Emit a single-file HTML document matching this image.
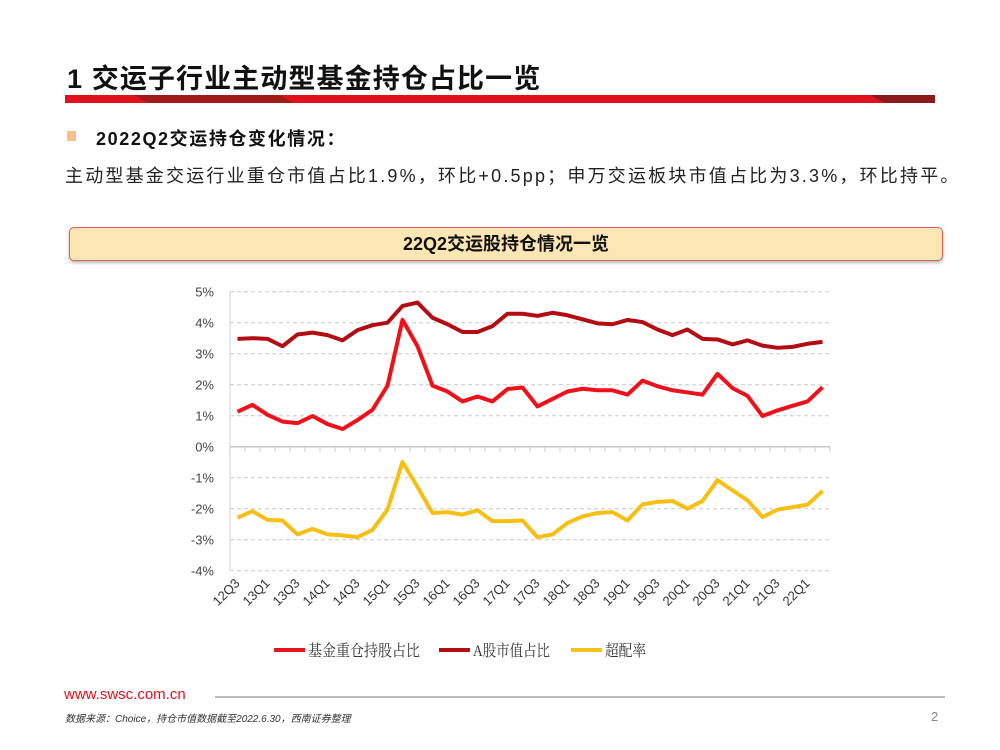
<!DOCTYPE html>
<html><head><meta charset="utf-8"><style>
body{margin:0;width:1000px;height:750px;background:#fff;position:relative;overflow:hidden;font-family:"Liberation Sans","Noto Sans CJK SC",sans-serif}
.abs{position:absolute;white-space:nowrap}
</style></head><body>
<div class="abs" style="left:67px;top:57px;font-size:27px;font-weight:bold;color:#111;letter-spacing:1.1px">1 交运子行业主动型基金持仓占比一览</div>
<svg class="abs" style="left:0;top:0" width="1000" height="110">
<rect x="65" y="95" width="870" height="8" fill="#e0101c"/>
<polygon points="134,95 280,95 293,103 148,103" fill="#a01a1a"/>
<polygon points="870,95 935,95 935,103 885,103" fill="#8b1a1a"/>
</svg>
<div class="abs" style="left:67px;top:131px;width:9px;height:10px;background:#f8c08e"></div>
<div class="abs" style="left:96px;top:125px;font-size:18px;font-weight:bold;color:#111;letter-spacing:1.6px">2022Q2交运持仓变化情况：</div>
<div class="abs" style="left:65px;top:162px;font-size:18px;color:#222;letter-spacing:2.2px">主动型基金交运行业重仓市值占比1.9%，环比+0.5pp；申万交运板块市值占比为3.3%，环比持平。</div>
<div class="abs" style="left:69px;top:227px;width:872px;height:32px;background:#fbe6b4;border:1px solid #d9605a;border-radius:5px;box-shadow:0 2px 3px #bbb;text-align:center;line-height:32px;font-size:18px;font-weight:bold;color:#111">22Q2交运股持仓情况一览</div>
<svg class="abs" id="chart" style="left:0;top:0" width="1000" height="680"></svg>
<div class="abs" style="left:64px;top:686px;font-size:15px;color:#e0101c">www.swsc.com.cn</div>
<div class="abs" style="left:215px;top:696px;width:730px;height:2px;background:#bbb"></div>
<div class="abs" style="left:65px;top:710px;font-size:10px;font-style:italic;color:#333">数据来源：Choice，持仓市值数据截至2022.6.30，西南证券整理</div>
<div class="abs" style="left:931px;top:709px;font-size:13px;color:#888">2</div>
<script>
const categories=[];
(function(){let y=12,q=3;for(let i=0;i<40;i++){categories.push(y+'Q'+q);q++;if(q>4){q=1;y++;}}})();
const fundShare=[1.13,1.35,1.03,0.81,0.76,0.99,0.73,0.57,0.86,1.19,1.97,4.09,3.24,1.97,1.78,1.46,1.62,1.46,1.86,1.91,1.30,1.54,1.78,1.87,1.82,1.82,1.68,2.13,1.95,1.82,1.75,1.68,2.35,1.89,1.64,0.99,1.17,1.32,1.46,1.92];
const marketShare=[3.48,3.50,3.48,3.24,3.62,3.68,3.60,3.43,3.76,3.92,4.00,4.54,4.65,4.16,3.95,3.70,3.70,3.89,4.29,4.29,4.22,4.32,4.24,4.11,3.98,3.95,4.09,4.02,3.78,3.60,3.78,3.48,3.46,3.30,3.43,3.26,3.19,3.22,3.32,3.38];
const overweight=[-2.29,-2.08,-2.36,-2.38,-2.83,-2.65,-2.83,-2.86,-2.92,-2.68,-2.03,-0.49,-1.30,-2.14,-2.11,-2.19,-2.05,-2.40,-2.40,-2.38,-2.92,-2.83,-2.46,-2.25,-2.14,-2.11,-2.38,-1.86,-1.78,-1.75,-2.00,-1.75,-1.08,-1.41,-1.73,-2.27,-2.03,-1.95,-1.87,-1.43];
const yTicks=[5,4,3,2,1,0,-1,-2,-3,-4];
const svg=document.getElementById('chart');const NS='http://www.w3.org/2000/svg';
const X0=230,STEP=15,Y0=446.7,PX=31;
const xs=i=>X0+STEP*(i+0.5);
const ys=v=>Y0-v*PX;
function mk(t,a,p){const e=document.createElementNS(NS,t);for(const k in a)e.setAttribute(k,a[k]);(p||svg).appendChild(e);return e;}
const plotR=X0+STEP*categories.length;
const gridG=mk('g',{});


yTicks.forEach(v=>{
 if(v!==0){mk('line',{x1:X0,x2:plotR,y1:ys(v),y2:ys(v),stroke:'#c8c8c8','stroke-dasharray':'4,3','stroke-width':1},gridG);}
 const t=mk('text',{x:X0-16,y:ys(v)+5,'text-anchor':'end','font-size':13,fill:'#444'});
 
 
 t.textContent=v+'%';
});
const ax=mk('line',{x1:X0,x2:X0,y1:ys(5),y2:ys(-4),stroke:'#d0d0d0','stroke-width':1});


const xa=mk('line',{x1:X0,x2:plotR,y1:Y0,y2:Y0,stroke:'#c8c8c8','stroke-width':1.5});


for(let i=0;i<=categories.length;i++){mk('line',{x1:X0+STEP*i,x2:X0+STEP*i,y1:Y0,y2:Y0+5,stroke:'#c8c8c8'});}
categories.forEach((c,i)=>{if(i%2)return;
 const x=xs(i)+3,y=584;
 const t=mk('text',{x:x,y:y,'text-anchor':'end','font-size':13,fill:'#333',transform:`rotate(-45 ${x} ${y})`});
 
 
 t.textContent=c;});
function line(arr,col,name){
 const p=mk('polyline',{points:arr.map((v,i)=>xs(i)+','+ys(v)).join(' '),fill:'none',stroke:col,'stroke-width':4,'stroke-linejoin':'round'});
 
 
}
line(marketShare,'#b30c12','series-a-share-market-cap');
line(fundShare,'#f0101a','series-fund-holding-share');
line(overweight,'#f7be14','series-overweight-rate');
const leg=[['基金重仓持股占比','#e8141c',274,112],['A股市值占比','#b30c12',439,77],['超配率','#f4c21a',571,41]];
leg.forEach(([n,c,x,w])=>{
 const g=mk('g',{});
 
 
 mk('line',{x1:x,x2:x+31,y1:650,y2:650,stroke:c,'stroke-width':4},g);
 const t=mk('text',{x:x+34,y:656,'font-size':16,fill:'#333',textLength:w,lengthAdjust:'spacingAndGlyphs','font-family':'"Liberation Serif","Noto Serif CJK SC",serif'},g);t.textContent=n;
});
</script>
</body></html>
